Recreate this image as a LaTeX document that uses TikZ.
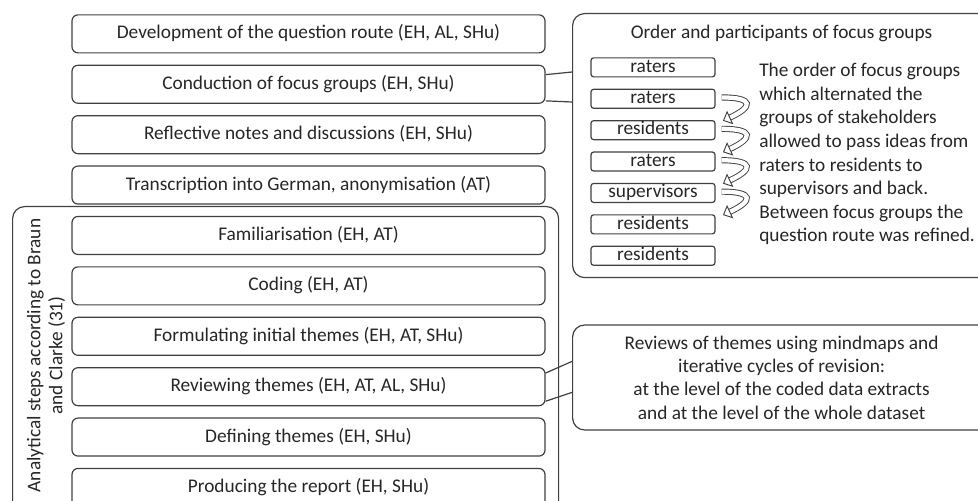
\documentclass[tikz,border=0pt]{standalone}
\usepackage{fontspec}
\setmainfont{Carlito}
\usepackage{xcolor}
\usepackage{tikz}
\usetikzlibrary{matrix,positioning,arrows.meta}

\definecolor{linegray}{HTML}{404040}
\tikzset{
	stepbox/.style={draw=linegray, line width=0.9pt, rounded corners=4.5pt, minimum width=354.75pt, minimum height=28.5pt, inner sep=0pt, text height=10.5pt, text depth=3pt},
	fgbox/.style={draw=linegray, line width=0.9pt, rounded corners=2pt, minimum width=93pt, minimum height=14.25pt, inner sep=0pt, text height=9.5pt, text depth=2.5pt},
	grpbox/.style={draw=linegray, line width=0.9pt, rounded corners=9pt, inner sep=0pt},
	link/.style={draw=linegray, line width=0.9pt},
	turn/.style={draw=linegray, line width=0.7pt, double=white, double distance=3.2pt, -{Triangle[open, length=6pt, width=11pt]}}
}

\begin{document}
\begin{tikzpicture}[x=0.75pt, y=0.75pt, font=\fontsize{14.5}{17.5}\selectfont, text=black!85]
	\path[use as bounding box, clip] (0,0) rectangle (978,500);
	\matrix(steps)[matrix of nodes, inner sep=0pt, row sep=8.4pt, nodes={stepbox}, anchor=north] at (308.5,486){
		Development of the question route (EH, AL, SHu)	\\
		Conduction of focus groups (EH, SHu)	\\
		Reflective notes and discussions (EH, SHu)	\\
		Transcription into German, anonymisation (AT)	\\
		Familiarisation (EH, AT)	\\
		Coding (EH, AT)	\\
		Formulating initial themes (EH, AT, SHu)	\\
		Reviewing themes (EH, AT, AL, SHu)	\\
		Defining themes (EH, SHu)	\\
		Producing the report (EH, SHu)	\\
	};
	\node[grpbox, anchor=north west, minimum width=409.5pt, minimum height=240pt] (analysis) at (12,294) {};
	\node[rotate=90, align=center, font=\fontsize{14.5}{16.5}\selectfont] (analysislabel) at (46,144.5) {Analytical steps according to Braun\\and Clarke (31)};
	\node[grpbox, anchor=north west, minimum width=313.5pt, minimum height=198pt] (order) at (572,487) {};
	\node[below=5.5pt of order.north] (ordertitle) {Order and participants of focus groups};
	\matrix(fg)[matrix of nodes, inner sep=0pt, row sep=8.4pt, nodes={fgbox}, anchor=north] at (653,443){
		raters	\\
		raters	\\
		residents	\\
		raters	\\
		supervisors	\\
		residents	\\
		residents	\\
	};
	\node[anchor=north west, inner sep=0pt, align=left, font=\fontsize{14.5}{17.7}\selectfont] (ordertext) at (759,437) {The order of focus groups\\which alternated the\\groups of stakeholders\\allowed to pass ideas from\\raters to residents to\\supervisors and back.\\Between focus groups the\\question route was refined.};
	\foreach \a/\b in {2/3,3/4,4/5,5/6}
		\draw[turn] ([xshift=4.5pt,yshift=1pt]fg-\a-1.east) to[out=0, in=25, looseness=3.6] ([xshift=5.5pt,yshift=7pt]fg-\b-1.east);
	\node[grpbox, anchor=west, minimum width=313.5pt, minimum height=78.75pt, align=center] (review) at (572,122.5) {Reviews of themes using mindmaps and\\iterative cycles of revision:\\at the level of the coded data extracts\\and at the level of the whole dataset};
	\draw[link] ([yshift=-7.5pt]steps-2-1.north east) -- ([yshift=-44.25pt]order.north west);
	\draw[link] ([yshift=2.25pt]steps-2-1.south east) -- ([yshift=-66.75pt]order.north west);
	\draw[link] ([yshift=-4.5pt]steps-8-1.north east) -- ([yshift=-27.75pt]review.north west);
	\draw[link] ([yshift=3.75pt]steps-8-1.south east) -- ([yshift=-51pt]review.north west);
\end{tikzpicture}
\end{document}
